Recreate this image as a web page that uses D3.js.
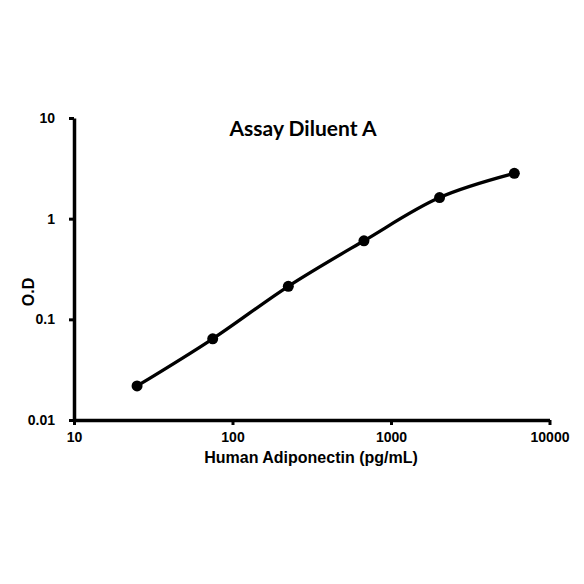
<!DOCTYPE html>
<html>
<head>
<meta charset="utf-8">
<script src="https://cdn.jsdelivr.net/npm/d3@7"></script>
<style>
  body { margin: 0; background: #fff; }
  svg text { font-family: Arial, "Liberation Sans", sans-serif; font-weight: bold; fill: #000; }
</style>
</head>
<body>
<div id="chart"></div>
<script>
var concentrations = [25, 75, 225, 675, 2025, 6000];
var odValues = [0.0218, 0.0641, 0.213, 0.603, 1.62, 2.82];
var xTicks = [10, 100, 1000, 10000];
var yTicks = [0.01, 0.1, 1, 10];
var title = "Assay Diluent A";
var xTitle = "Human Adiponectin (pg/mL)";
var yTitle = "O.D";

var width = 584, height = 584;
var plotLeft = 74, plotRight = 549.5, plotTop = 118, plotBottom = 420;

var svg = d3.select('#chart')
  .append('svg')
  .attr('width', width)
  .attr('height', height);

var x = d3.scaleLog().domain([10, 10000]).range([plotLeft, plotRight]);
var y = d3.scaleLog().domain([0.01, 10]).range([plotBottom, plotTop]);

var xAxis = svg.append('g')
  .attr('transform', 'translate(0,' + plotBottom + ')')
  .call(d3.axisBottom(x).tickValues(xTicks).tickFormat(d3.format('d')).tickSize(5).tickSizeOuter(0).tickPadding(7));

var yAxis = svg.append('g')
  .attr('transform', 'translate(' + plotLeft + ',0)')
  .call(d3.axisLeft(y).tickValues(yTicks).tickFormat(function(d) { return String(d); }).tickSize(5).tickSizeOuter(0).tickPadding(14));

[xAxis, yAxis].forEach(function(a) {
  a.select('.domain').attr('stroke', '#000').attr('stroke-width', 3.5);
  a.selectAll('.tick line').attr('stroke', '#000').attr('stroke-width', 3);
  a.selectAll('.tick text').style('font-size', '14px');
});

var line = d3.line()
  .x(function(d) { return x(d[0]); })
  .y(function(d) { return y(d[1]); })
  .curve(d3.curveCatmullRom.alpha(0.5));

var data = concentrations.map(function(c, i) { return [c, odValues[i]]; });

svg.append('path')
  .datum(data)
  .attr('d', line)
  .attr('fill', 'none')
  .attr('stroke', '#000')
  .attr('stroke-width', 3.3);

svg.selectAll('circle')
  .data(data)
  .enter()
  .append('circle')
  .attr('cx', function(d) { return x(d[0]); })
  .attr('cy', function(d) { return y(d[1]); })
  .attr('r', 5.5)
  .attr('fill', '#000');

svg.append('text')
  .attr('x', 303)
  .attr('y', 136)
  .attr('text-anchor', 'middle')
  .style('font-family', 'Lato, "Open Sans", sans-serif')
  .style('font-size', '21px')
  .text(title);

svg.append('text')
  .attr('x', 311)
  .attr('y', 463)
  .attr('text-anchor', 'middle')
  .style('font-size', '16px')
  .text(xTitle);

svg.append('text')
  .attr('transform', 'translate(34,292) rotate(-90)')
  .attr('text-anchor', 'middle')
  .style('font-size', '16px')
  .text(yTitle);
</script>
</body>
</html>
